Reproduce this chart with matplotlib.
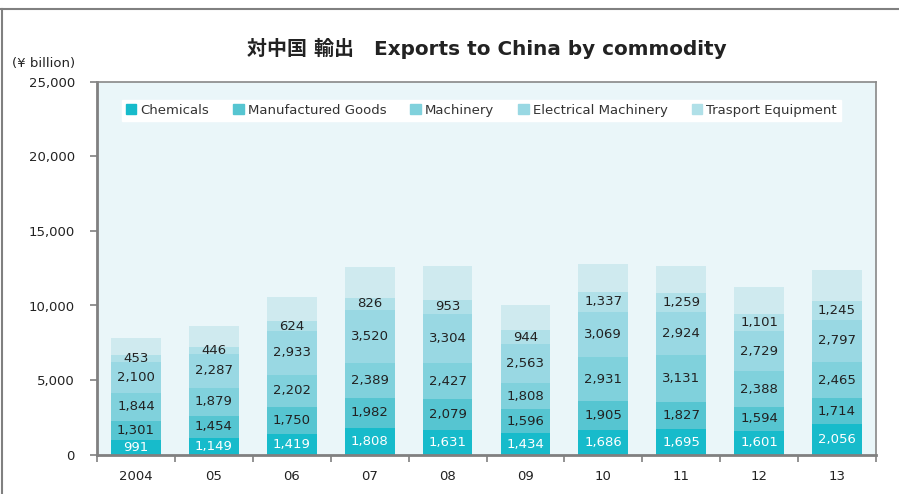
import matplotlib
matplotlib.use("Agg")
from matplotlib import pyplot as plt
import matplotlib.patches as mpatches
from matplotlib.lines import Line2D
import numpy as np

# data (¥ billion)
years = ["2004", "05", "06", "07", "08", "09", "10", "11", "12", "13"]
chemicals = [991, 1149, 1419, 1808, 1631, 1434, 1686, 1695, 1601, 2056]
manufactured = [1301, 1454, 1750, 1982, 2079, 1596, 1905, 1827, 1594, 1714]
machinery = [1844, 1879, 2202, 2389, 2427, 1808, 2931, 3131, 2388, 2465]
electrical = [2100, 2287, 2933, 3520, 3304, 2563, 3069, 2924, 2729, 2797]
transport = [453, 446, 624, 826, 953, 944, 1337, 1259, 1101, 1245]
others = [1166, 1411, 1642, 2055, 2256, 1688, 1853, 1814, 1827, 2102]

series_names = ["Chemicals", "Manufactured Goods", "Machinery",
                "Electrical Machinery", "Trasport Equipment", None]
series = [chemicals, manufactured, machinery, electrical, transport, others]
colors = ["#17BBCB", "#56C5D1", "#80D1DC", "#99D8E3", "#B0E0E8", "#CFEAEF"]

plt.rcParams['font.family'] = ['DejaVu Sans', 'Noto Sans CJK JP']

fig = plt.figure(figsize=(8.99, 4.94), dpi=100)
ax = fig.add_axes([97 / 899, 1 - 454.7 / 494, 779 / 899, 373 / 494])
ax.set_facecolor("#EAF6F9")

x = np.arange(len(years))
bottom = np.zeros(len(years))
for i, (vals, col) in enumerate(zip(series, colors)):
    vals = np.array(vals, dtype=float)
    ax.bar(x, vals, width=0.64, bottom=bottom, color=col, linewidth=0, zorder=2)
    # value labels, no label for the unnamed top segment
    if series_names[i] is not None:
        txtcol = "white" if i == 0 else "#222222"
        for xi, b, v in zip(x, bottom, vals):
            ax.text(xi, b + v / 2, f"{int(v):,}", ha="center", va="center",
                    fontsize=9.5, color=txtcol, zorder=3)
    bottom += vals

ax.set_xlim(-0.5, len(years) - 0.5)
ax.set_ylim(0, 25000)
ax.set_yticks(np.arange(0, 25001, 5000))
ax.set_yticklabels([f"{v:,}" for v in range(0, 25001, 5000)], fontsize=9.5, color="#222222")
ax.tick_params(axis="y", length=5, width=1.2, color="#808080", pad=11)

# category boundaries get ticks, centres get labels
ax.set_xticks(np.arange(-0.5, len(years), 1.0))
ax.set_xticklabels([])
ax.set_xticks(x, minor=True)
ax.set_xticklabels(years, minor=True, fontsize=9.5, color="#222222")
ax.tick_params(axis="x", which="major", length=5, width=1.2, color="#808080", direction="out")
ax.tick_params(axis="x", which="minor", length=0, pad=11)

for side in ["left", "bottom"]:
    ax.spines[side].set_color("#808080")
    ax.spines[side].set_linewidth(2)
for side in ["top", "right"]:
    ax.spines[side].set_color("#888888")
    ax.spines[side].set_linewidth(1.2)

# legend
handles = [mpatches.Patch(color=c, label=n) for c, n in zip(colors[:5], series_names[:5])]
leg = ax.legend(handles=handles, loc="lower left", ncol=5, mode="expand",
                bbox_to_anchor=(0.032, 0.895, 0.923, 0.064), borderaxespad=0,
                fontsize=9.5, frameon=True, fancybox=False, framealpha=1,
                handlelength=0.8, handleheight=0.8, handletextpad=0.3,
                borderpad=0.3)
leg.get_frame().set_facecolor("white")
leg.get_frame().set_edgecolor("white")
for t in leg.get_texts():
    t.set_color("#333333")

# titles
fig.text(487 / 899, 1 - 48 / 494, "対中国 輸出　Exports to China by commodity",
         ha="center", va="center", fontsize=14.4, fontweight="bold", color="#222222")
fig.text(75 / 899, 1 - 63 / 494, "(¥ billion)", ha="right", va="center",
         fontsize=9.5, color="#222222")

# outer frame lines
fig.add_artist(Line2D([0, 1], [1 - 9 / 494, 1 - 9 / 494], transform=fig.transFigure,
                      color="#808080", linewidth=1.5))
fig.add_artist(Line2D([1.5 / 899, 1.5 / 899], [0, 1 - 9 / 494], transform=fig.transFigure,
                      color="#808080", linewidth=1.5))

fig.savefig("out.png", dpi=100)
